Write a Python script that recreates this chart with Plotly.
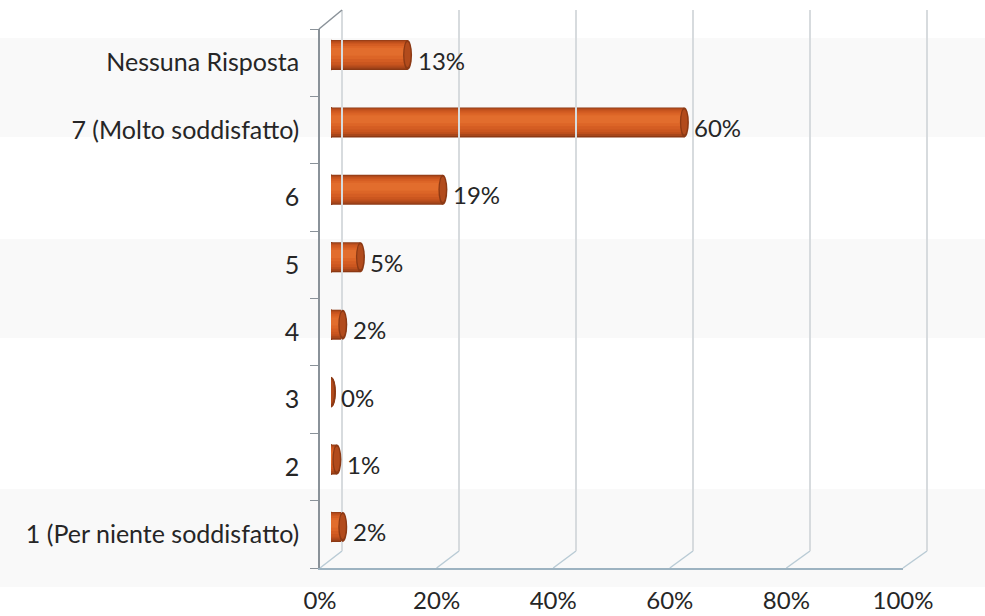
import plotly.graph_objects as go

# Survey answers, bottom to top
categories = [
    "1 (Per niente soddisfatto)",
    "2",
    "3",
    "4",
    "5",
    "6",
    "7 (Molto soddisfatto)",
    "Nessuna Risposta",
]
values = [2, 1, 0, 2, 5, 19, 60, 13]
x_tick_vals = [0, 20, 40, 60, 80, 100]
x_tick_text = ["0%", "20%", "40%", "60%", "80%", "100%"]

W, H = 985, 616
FONT = "Lato"
TXT = "#262626"


def px(x):
    return x / W


def py(y):
    return 1 - y / H


# pixel extents of the three planes of the pseudo-3D frame
FRONT_X = (320, 903)
FRONT_Y = (568, 29)
BACK_X = (342, 927)
BACK_Y = (551, 10)
BAR_X = (331, 920)
CAT_PX = 67.4
BAR_Y = (527 + CAT_PX / 2, 55 - CAT_PX / 2)

# back wall axis gets a little padding so the 0% and 100% gridlines are kept
PAD = 2
back_scale = (BACK_X[1] - BACK_X[0]) / 100
BACK_DOM = (BACK_X[0] - PAD * back_scale, BACK_X[1] + PAD * back_scale)
GRID = "#d7dbde"

n = len(categories)
idx = list(range(n))


def u(pixels):
    """pixel height -> category units"""
    return pixels / CAT_PX


fig = go.Figure()

# cylinder body drawn as stacked overlay bars, dark rim to light highlight
layers = [
    (30, 0.0, "#8c3914"),
    (28, 0.4, "#a8461a"),
    (25, 0.9, "#bd4f1d"),
    (22, 1.3, "#cb561f"),
    (18, 1.9, "#d45d23"),
    (13, 2.6, "#dc6527"),
    (8, 3.2, "#e26d2d"),
]
for h, up, col in layers:
    fig.add_trace(go.Bar(
        x=values, y=idx, orientation="h",
        width=u(h), offset=-u(h) / 2 + u(up),
        marker=dict(color=col, line=dict(width=0)),
        xaxis="x", yaxis="y", hoverinfo="skip", showlegend=False,
    ))

# empty traces so the frame subplots are drawn
fig.add_trace(go.Scatter(x=[None], y=[None], xaxis="x2", yaxis="y2",
                         showlegend=False, hoverinfo="skip"))
fig.add_trace(go.Scatter(x=[0] * n, y=categories, xaxis="x3", yaxis="y3",
                         mode="markers", marker=dict(opacity=0),
                         showlegend=False, hoverinfo="skip"))

shapes = []

# faint horizontal background bands
for top, bot in [(38, 137), (239, 338), (489, 587)]:
    shapes.append(dict(type="rect", xref="paper", yref="paper",
                       x0=0, x1=1, y0=py(bot), y1=py(top),
                       fillcolor="#f9f9f9", line=dict(width=0), layer="below"))

# floor diagonals joining the front axis to the back wall
for v in x_tick_vals:
    fx = FRONT_X[0] + (FRONT_X[1] - FRONT_X[0]) * v / 100
    bx = BACK_X[0] + (BACK_X[1] - BACK_X[0]) * v / 100
    shapes.append(dict(type="line", xref="paper", yref="paper",
                       x0=px(fx), y0=py(FRONT_Y[0]), x1=px(bx), y1=py(BACK_Y[0]),
                       line=dict(color="#b9cbd5", width=1.5), layer="below"))
# side wall top edge
shapes.append(dict(type="line", xref="paper", yref="paper",
                   x0=px(FRONT_X[0] - 1), y0=py(FRONT_Y[1]),
                   x1=px(BACK_X[0]), y1=py(BACK_Y[1]),
                   line=dict(color="#8a9299", width=1.5)))

# cylinder end caps
for i, v in zip(idx, values):
    # rounded left end
    shapes.append(dict(type="circle", xref="x", yref="y",
                       xsizemode="pixel", ysizemode="pixel",
                       xanchor=0, yanchor=i, x0=-4.5, x1=4.5, y0=-15, y1=15,
                       fillcolor="#c8541f", line=dict(color="#8c3914", width=1),
                       layer="between"))
    # right end face
    shapes.append(dict(type="circle", xref="x", yref="y",
                       xsizemode="pixel", ysizemode="pixel",
                       xanchor=v, yanchor=i, x0=-4.5, x1=4.5, y0=-15, y1=15,
                       fillcolor="#8c3914", line=dict(width=0)))
    shapes.append(dict(type="circle", xref="x", yref="y",
                       xsizemode="pixel", ysizemode="pixel",
                       xanchor=v, yanchor=i, x0=-3.2, x1=3.0, y0=-12, y1=13,
                       fillcolor="#b24b1c", line=dict(width=0)))

# value labels
annotations = []
for i, v in zip(idx, values):
    annotations.append(dict(x=v, y=i, xref="x", yref="y", text=f"{v}%",
                            showarrow=False, xanchor="left", yanchor="middle",
                            xshift=8, yshift=-5,
                            font=dict(family=FONT, size=24, color=TXT)))

fig.update_layout(
    width=W, height=H,
    margin=dict(l=0, r=0, t=0, b=0),
    paper_bgcolor="white",
    plot_bgcolor="rgba(0,0,0,0)",
    barmode="overlay",
    showlegend=False,
    shapes=shapes,
    annotations=annotations,
    xaxis=dict(domain=[px(BAR_X[0]), px(BAR_X[1])], range=[0, 100],
               visible=False, anchor="y", automargin=False),
    yaxis=dict(domain=[py(BAR_Y[0]), py(BAR_Y[1])], range=[-0.5, n - 0.5],
               visible=False, anchor="x", automargin=False),
    # back wall with vertical gridlines
    xaxis2=dict(domain=[px(BACK_DOM[0]), px(BACK_DOM[1])],
                range=[-PAD, 100 + PAD],
                tickvals=x_tick_vals, showticklabels=False, showgrid=True,
                gridcolor=GRID, gridwidth=2,
                zeroline=True, zerolinecolor=GRID, zerolinewidth=2,
                showline=False, anchor="y2", automargin=False),
    yaxis2=dict(domain=[py(BACK_Y[0]), py(BACK_Y[1])], range=[0, 1],
                visible=False, anchor="x2", automargin=False),
    # front axes carrying the labels
    xaxis3=dict(domain=[px(FRONT_X[0]), px(FRONT_X[1])], range=[0, 100],
                tickvals=x_tick_vals, ticktext=x_tick_text,
                showgrid=False, zeroline=False, showline=True,
                linecolor="#9db3c1", linewidth=2, ticks="",
                ticklabelstandoff=10, automargin=False,
                tickfont=dict(family=FONT, size=24, color=TXT), anchor="y3"),
    yaxis3=dict(domain=[py(FRONT_Y[0]), py(FRONT_Y[1])], range=[-0.5, n - 0.5],
                type="category", categoryorder="array", categoryarray=categories,
                showgrid=False, zeroline=False, showline=True,
                linecolor="#8a9299", linewidth=1.5,
                ticks="outside", ticklen=8, tickcolor="#8a9299",
                tickson="boundaries", ticklabelstandoff=14, automargin=False,
                tickfont=dict(family=FONT, size=25, color=TXT), anchor="x3"),
)

fig.write_html("out.html")
